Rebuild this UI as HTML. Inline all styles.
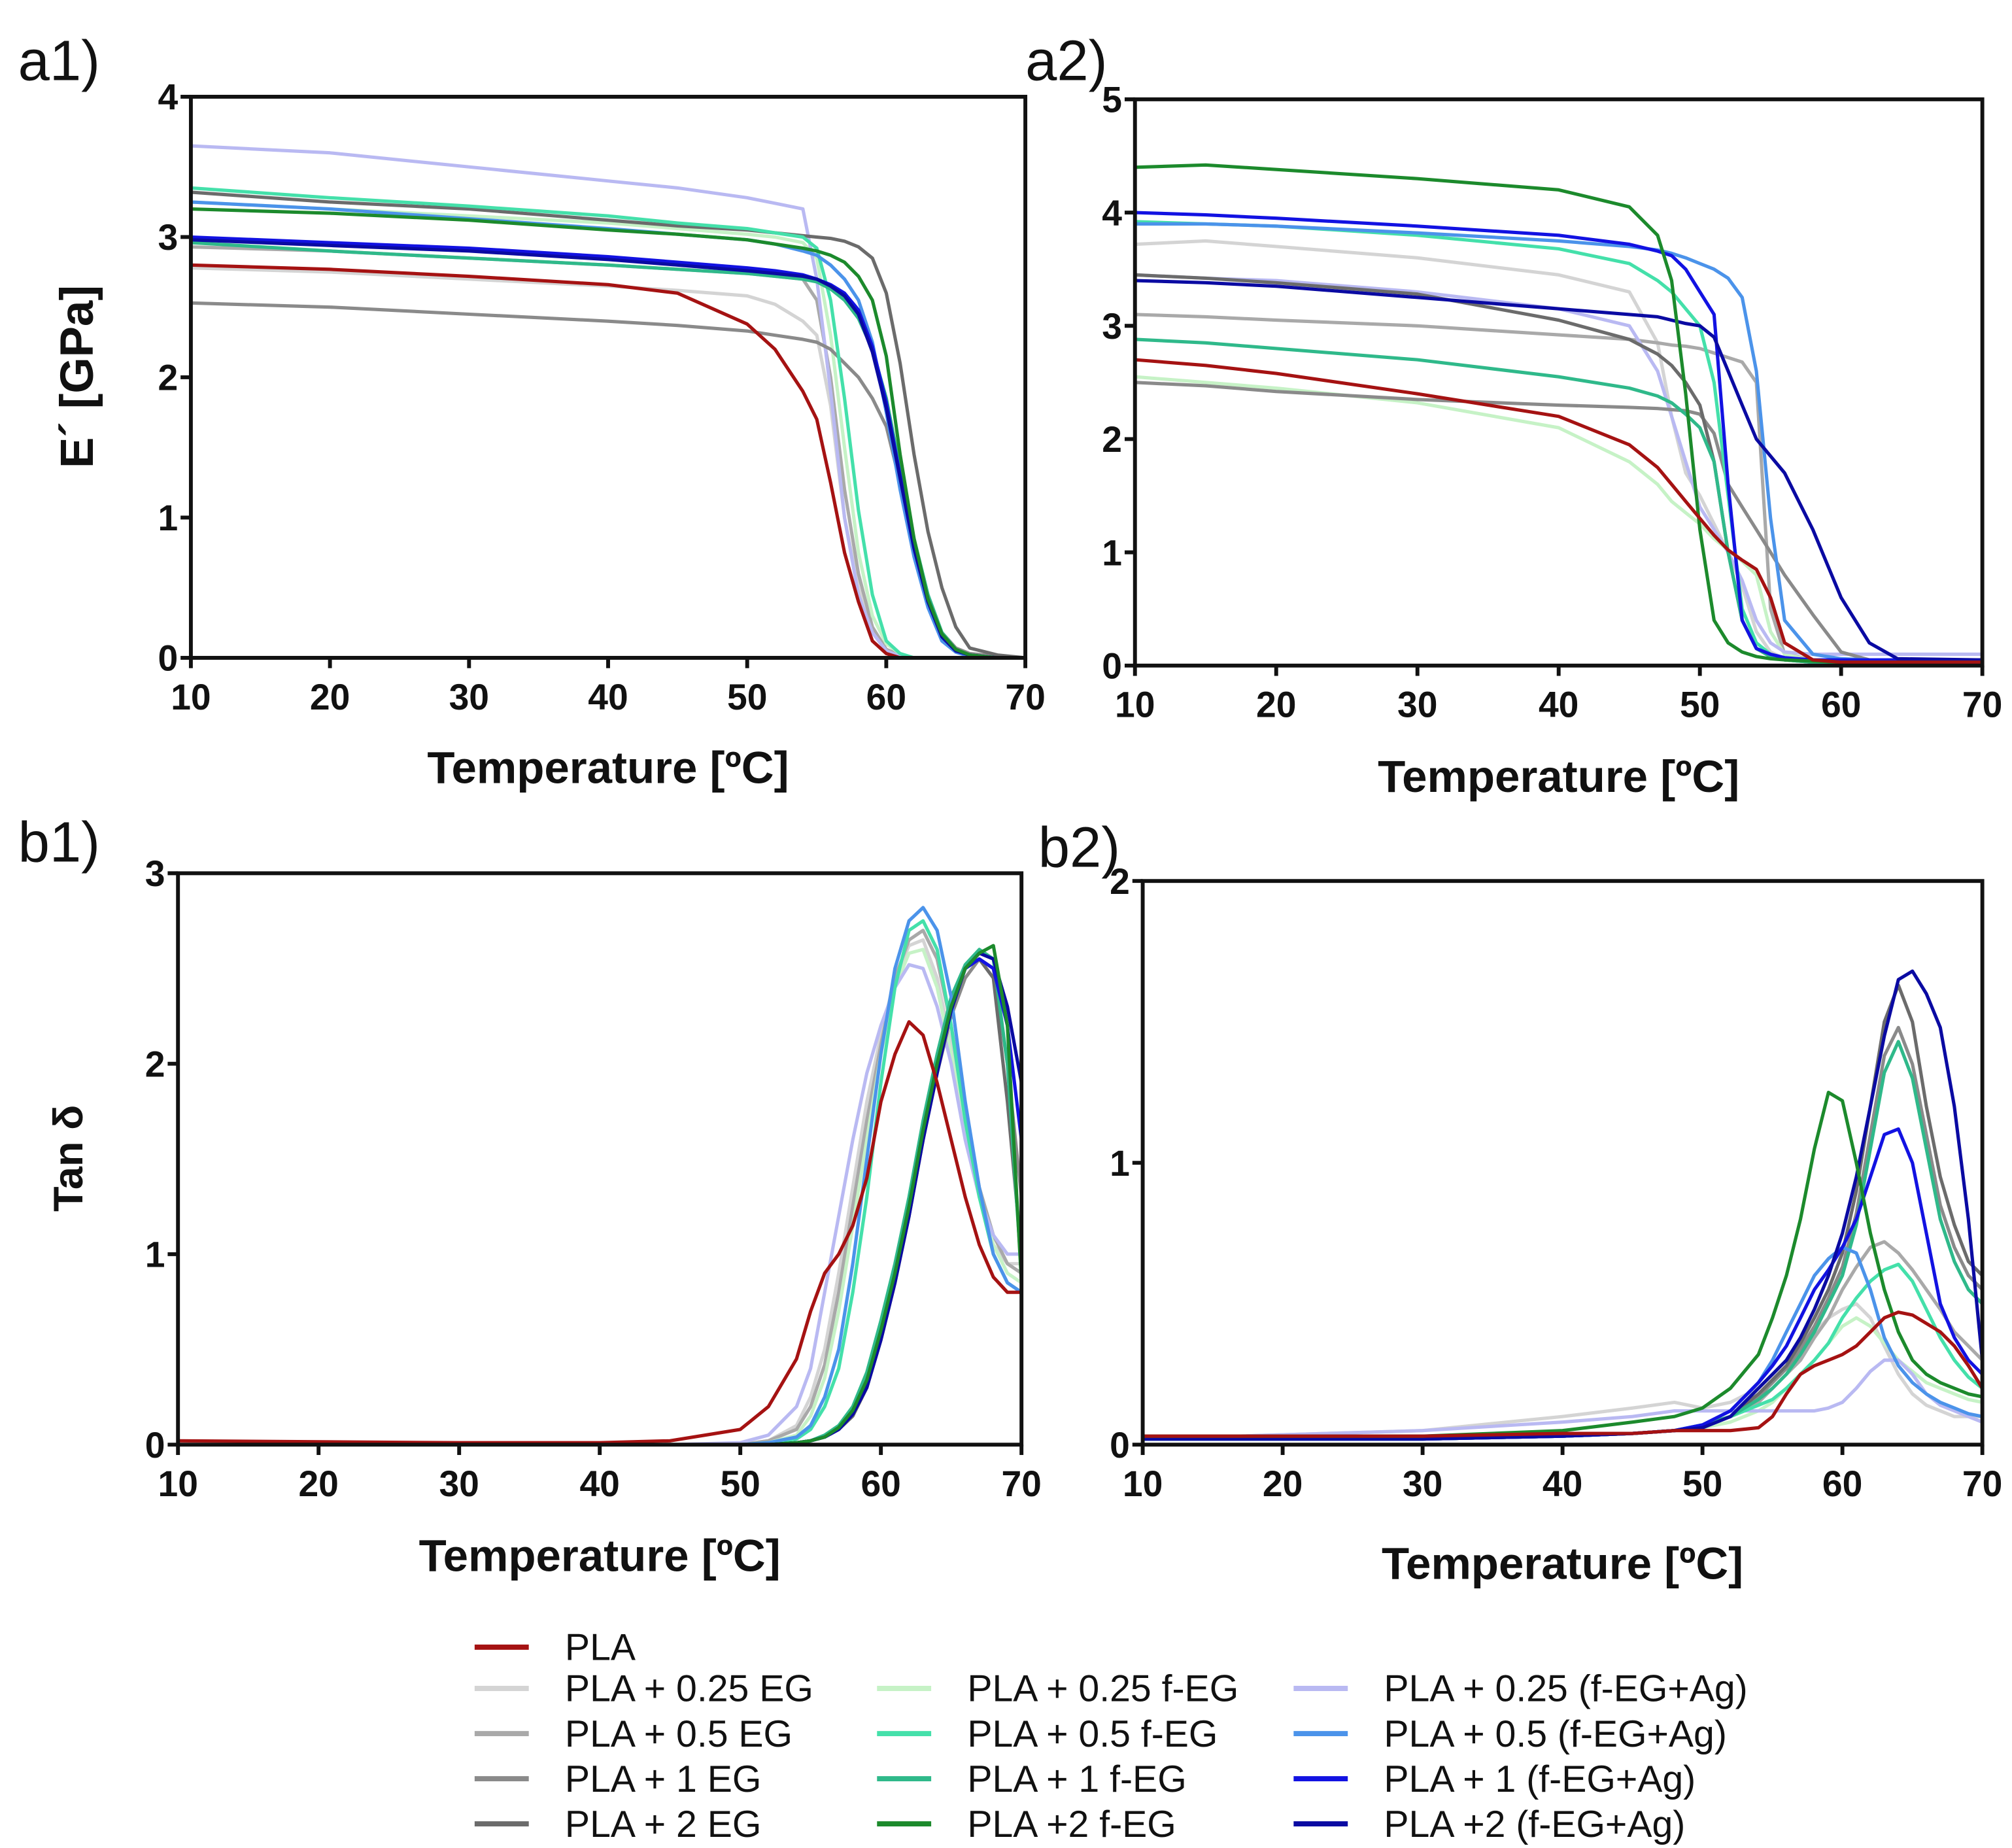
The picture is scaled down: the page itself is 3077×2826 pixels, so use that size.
<!DOCTYPE html>
<html><head><meta charset="utf-8">
<style>
html,body{margin:0;padding:0;background:#fff;}
svg{display:block;}
text{font-family:"Liberation Sans",Arial,sans-serif;fill:#111;}
</style></head>
<body>
<svg id="fig" xmlns="http://www.w3.org/2000/svg" width="3077" height="2826" viewBox="0 0 1560 1432.7" preserveAspectRatio="none">
<rect width="1560" height="1432.7" fill="#fff"/>
</svg>
<script>
// ---------- DATA ----------
const seriesNames = ["PLA","PLA + 0.25 EG","PLA + 0.5 EG","PLA + 1 EG","PLA + 2 EG","PLA + 0.25 f-EG","PLA + 0.5 f-EG","PLA + 1 f-EG","PLA +2 f-EG","PLA + 0.25 (f-EG+Ag)","PLA + 0.5 (f-EG+Ag)","PLA + 1 (f-EG+Ag)","PLA +2 (f-EG+Ag)"];
const seriesKeys = ["PLA","EG025","EG05","EG1","EG2","fEG025","fEG05","fEG1","fEG2","Ag025","Ag05","Ag1","Ag2"];
const xTicks = [10,20,30,40,50,60,70];

// a1: storage modulus E' [GPa]
const a1Temps = [10,20,30,40,45,50,52,54,55,56,57,58,59,60,61,62,63,64,65,66,68,70];
const a1_PLA   = [2.80,2.77,2.72,2.66,2.6,2.38,2.2,1.9,1.7,1.25,0.75,0.4,0.12,0.03,0,0,0,0,0,0,0,0];
const a1_EG025 = [2.78,2.75,2.7,2.65,2.62,2.58,2.52,2.4,2.3,1.8,1.0,0.5,0.2,0.06,0.02,0,0,0,0,0,0,0];
const a1_EG05  = [2.93,2.9,2.85,2.8,2.77,2.74,2.72,2.7,2.55,2.0,1.2,0.6,0.22,0.06,0.02,0,0,0,0,0,0,0];
const a1_EG1   = [2.53,2.5,2.45,2.4,2.37,2.33,2.3,2.27,2.25,2.2,2.1,2.0,1.85,1.65,1.25,0.75,0.4,0.18,0.07,0.03,0.01,0];
const a1_EG2   = [3.32,3.25,3.2,3.12,3.08,3.05,3.03,3.01,3.0,2.99,2.97,2.93,2.85,2.6,2.1,1.45,0.9,0.5,0.22,0.07,0.02,0];
const a1_fEG025= [3.25,3.2,3.15,3.1,3.06,3.02,3.0,2.96,2.85,2.3,1.5,0.75,0.3,0.1,0.03,0,0,0,0,0,0,0];
const a1_fEG05 = [3.35,3.28,3.22,3.15,3.1,3.06,3.03,3.0,2.92,2.55,1.85,1.05,0.45,0.12,0.03,0,0,0,0,0,0,0];
const a1_fEG1  = [2.96,2.9,2.85,2.8,2.77,2.74,2.72,2.7,2.68,2.63,2.55,2.42,2.2,1.85,1.35,0.85,0.45,0.18,0.06,0.02,0,0];
const a1_fEG2  = [3.2,3.17,3.12,3.05,3.02,2.98,2.95,2.92,2.9,2.87,2.82,2.72,2.55,2.15,1.45,0.85,0.42,0.17,0.06,0.02,0,0];
const a1_Ag025 = [3.65,3.6,3.5,3.4,3.35,3.28,3.24,3.2,2.7,1.9,1.0,0.45,0.18,0.05,0.01,0,0,0,0,0,0,0];
const a1_Ag05  = [3.25,3.2,3.13,3.06,3.02,2.98,2.95,2.9,2.87,2.8,2.7,2.55,2.25,1.75,1.2,0.72,0.36,0.12,0.04,0.01,0,0];
const a1_Ag1   = [3.0,2.96,2.92,2.86,2.82,2.78,2.76,2.73,2.7,2.66,2.6,2.48,2.22,1.82,1.3,0.8,0.42,0.16,0.05,0.02,0,0];
const a1_Ag2   = [2.98,2.94,2.9,2.84,2.8,2.76,2.74,2.72,2.7,2.65,2.58,2.45,2.18,1.78,1.28,0.78,0.4,0.15,0.05,0.02,0,0];
const a1YTicks = [0,1,2,3,4];

// a2
const a2Temps = [10,15,20,30,40,45,47,48,49,50,51,52,53,54,55,56,58,60,62,64,70];
const a2_PLA   = [2.7,2.65,2.58,2.4,2.2,1.95,1.75,1.6,1.45,1.3,1.15,1.02,0.93,0.85,0.6,0.2,0.05,0.03,0.03,0.03,0.03];
const a2_EG025 = [3.72,3.75,3.7,3.6,3.45,3.3,2.85,2.2,1.7,1.5,1.25,1.0,0.7,0.3,0.12,0.06,0.03,0.03,0.03,0.03,0.03];
const a2_EG05  = [3.1,3.08,3.05,3.0,2.92,2.88,2.85,2.83,2.82,2.8,2.76,2.72,2.68,2.5,0.5,0.1,0.05,0.03,0.03,0.03,0.03];
const a2_EG1   = [2.5,2.47,2.42,2.35,2.3,2.28,2.27,2.26,2.25,2.22,2.05,1.6,1.4,1.2,1.0,0.8,0.45,0.12,0.05,0.03,0.03];
const a2_EG2   = [3.45,3.42,3.38,3.28,3.05,2.88,2.75,2.65,2.5,2.3,1.8,1.0,0.4,0.15,0.08,0.05,0.03,0.03,0.03,0.03,0.03];
const a2_fEG025= [2.55,2.5,2.45,2.32,2.1,1.8,1.6,1.45,1.35,1.25,1.12,1.02,0.92,0.8,0.3,0.1,0.04,0.03,0.03,0.03,0.03];
const a2_fEG05 = [3.92,3.9,3.88,3.8,3.68,3.55,3.4,3.3,3.15,3.0,2.5,1.5,0.5,0.2,0.1,0.05,0.03,0.03,0.03,0.03,0.03];
const a2_fEG1  = [2.88,2.85,2.8,2.7,2.55,2.45,2.38,2.32,2.22,2.1,1.8,1.0,0.4,0.15,0.08,0.05,0.03,0.03,0.03,0.03,0.03];
const a2_fEG2  = [4.4,4.42,4.38,4.3,4.2,4.05,3.8,3.4,2.4,1.2,0.4,0.2,0.12,0.08,0.06,0.05,0.04,0.03,0.03,0.03,0.03];
const a2_Ag025 = [3.45,3.42,3.4,3.3,3.15,3.0,2.6,2.2,1.8,1.4,1.2,1.0,0.75,0.4,0.2,0.12,0.1,0.1,0.1,0.1,0.1];
const a2_Ag05  = [3.9,3.9,3.88,3.82,3.75,3.7,3.67,3.64,3.6,3.55,3.5,3.42,3.25,2.6,1.3,0.4,0.1,0.06,0.05,0.05,0.05];
const a2_Ag1   = [4.0,3.98,3.95,3.88,3.8,3.72,3.66,3.62,3.5,3.3,3.1,1.6,0.4,0.15,0.1,0.07,0.05,0.05,0.05,0.05,0.05];
const a2_Ag2   = [3.4,3.38,3.35,3.25,3.15,3.1,3.08,3.05,3.02,3.0,2.9,2.6,2.3,2.0,1.85,1.7,1.2,0.6,0.2,0.06,0.05];
const a2YTicks = [0,1,2,3,4,5];

// b1: tan delta
const b1Temps = [10,30,40,45,50,52,54,55,56,57,58,59,60,61,62,63,64,65,66,67,68,69,70];
const b1_PLA   = [0.02,0.01,0.01,0.02,0.08,0.2,0.45,0.7,0.9,1.0,1.15,1.4,1.8,2.05,2.22,2.15,1.9,1.6,1.3,1.05,0.88,0.8,0.8];
const b1_EG025 = [0,0,0,0,0,0.02,0.1,0.25,0.5,0.9,1.35,1.8,2.15,2.45,2.62,2.65,2.45,2.1,1.7,1.3,1.05,0.95,0.95];
const b1_EG05  = [0,0,0,0,0,0.02,0.08,0.2,0.42,0.8,1.25,1.7,2.1,2.45,2.65,2.7,2.55,2.2,1.75,1.35,1.1,0.95,0.9];
const b1_EG1   = [0,0,0,0,0,0,0.01,0.02,0.04,0.08,0.15,0.3,0.55,0.85,1.2,1.6,1.95,2.25,2.45,2.55,2.5,2.0,1.3];
const b1_EG2   = [0,0,0,0,0,0,0.01,0.02,0.04,0.08,0.15,0.3,0.55,0.85,1.2,1.6,2.0,2.3,2.5,2.55,2.45,1.8,1.0];
const b1_fEG025= [0,0,0,0,0,0.01,0.05,0.15,0.35,0.7,1.15,1.6,2.05,2.4,2.58,2.6,2.4,2.05,1.65,1.3,1.05,0.9,0.85];
const b1_fEG05 = [0,0,0,0,0,0.01,0.03,0.08,0.2,0.4,0.8,1.3,1.9,2.4,2.7,2.75,2.6,2.2,1.7,1.3,1.0,0.85,0.8];
const b1_fEG1  = [0,0,0,0,0,0,0.01,0.02,0.05,0.1,0.2,0.38,0.65,0.95,1.3,1.7,2.05,2.35,2.52,2.6,2.55,2.0,0.9];
const b1_fEG2  = [0,0,0,0,0,0,0.01,0.02,0.04,0.09,0.18,0.34,0.6,0.9,1.25,1.65,2.0,2.3,2.5,2.58,2.62,2.2,0.85];
const b1_Ag025 = [0,0,0,0,0.01,0.05,0.2,0.4,0.8,1.2,1.6,1.95,2.2,2.4,2.52,2.5,2.3,2.0,1.6,1.3,1.1,1.0,1.0];
const b1_Ag05  = [0,0,0,0,0,0.01,0.04,0.1,0.25,0.5,0.95,1.5,2.05,2.5,2.75,2.82,2.7,2.35,1.8,1.35,1.0,0.85,0.8];
const b1_Ag1   = [0,0,0,0,0,0,0.01,0.02,0.04,0.08,0.16,0.32,0.58,0.9,1.25,1.65,2.0,2.3,2.5,2.55,2.5,2.2,1.6];
const b1_Ag2   = [0,0,0,0,0,0,0.01,0.02,0.04,0.08,0.16,0.3,0.55,0.85,1.2,1.6,1.95,2.28,2.5,2.58,2.55,2.3,1.9];
const b1YTicks = [0,1,2,3];

// b2
const b2Temps = [10,30,40,45,48,50,52,54,55,56,57,58,59,60,61,62,63,64,65,66,67,68,69,70];
const b2_PLA   = [0.03,0.03,0.04,0.04,0.05,0.05,0.05,0.06,0.1,0.18,0.25,0.28,0.3,0.32,0.35,0.4,0.45,0.47,0.46,0.43,0.4,0.35,0.28,0.2];
const b2_EG025 = [0.02,0.05,0.1,0.13,0.15,0.13,0.15,0.2,0.25,0.3,0.35,0.4,0.45,0.48,0.5,0.45,0.35,0.25,0.18,0.14,0.12,0.1,0.1,0.1];
const b2_EG05  = [0.02,0.02,0.03,0.04,0.05,0.07,0.1,0.15,0.2,0.25,0.3,0.38,0.45,0.55,0.63,0.7,0.72,0.68,0.62,0.55,0.48,0.4,0.35,0.3];
const b2_EG1   = [0.02,0.02,0.03,0.04,0.05,0.07,0.1,0.17,0.22,0.27,0.34,0.42,0.52,0.63,0.82,1.1,1.38,1.48,1.35,1.1,0.85,0.7,0.6,0.55];
const b2_EG2   = [0.02,0.02,0.03,0.04,0.05,0.07,0.1,0.18,0.23,0.28,0.36,0.45,0.55,0.68,0.9,1.2,1.5,1.63,1.5,1.2,0.95,0.78,0.65,0.6];
const b2_fEG025= [0.02,0.02,0.03,0.04,0.05,0.06,0.08,0.12,0.15,0.2,0.25,0.3,0.36,0.42,0.45,0.42,0.36,0.3,0.26,0.22,0.2,0.18,0.16,0.15];
const b2_fEG05 = [0.02,0.02,0.03,0.04,0.05,0.07,0.1,0.14,0.16,0.2,0.25,0.3,0.36,0.45,0.52,0.58,0.62,0.64,0.58,0.48,0.38,0.3,0.24,0.2];
const b2_fEG1  = [0.02,0.02,0.03,0.04,0.05,0.07,0.1,0.16,0.2,0.25,0.32,0.4,0.5,0.6,0.78,1.05,1.32,1.43,1.3,1.05,0.8,0.65,0.55,0.5];
const b2_fEG2  = [0.03,0.03,0.05,0.08,0.1,0.13,0.2,0.32,0.45,0.6,0.8,1.05,1.25,1.22,1.0,0.75,0.55,0.4,0.3,0.25,0.22,0.2,0.18,0.17];
const b2_Ag025 = [0.02,0.05,0.08,0.1,0.12,0.12,0.12,0.12,0.12,0.12,0.12,0.12,0.13,0.15,0.2,0.26,0.3,0.3,0.25,0.18,0.14,0.12,0.1,0.08];
const b2_Ag05  = [0.02,0.02,0.03,0.04,0.05,0.07,0.12,0.22,0.3,0.4,0.5,0.6,0.66,0.7,0.68,0.55,0.38,0.28,0.22,0.18,0.15,0.13,0.11,0.1];
const b2_Ag1   = [0.02,0.02,0.03,0.04,0.05,0.07,0.12,0.22,0.28,0.35,0.45,0.55,0.62,0.7,0.8,0.95,1.1,1.12,1.0,0.75,0.5,0.38,0.3,0.25];
const b2_Ag2   = [0.02,0.02,0.03,0.04,0.05,0.06,0.1,0.2,0.25,0.3,0.38,0.48,0.6,0.75,0.95,1.2,1.45,1.65,1.68,1.6,1.48,1.2,0.8,0.3];
const b2YTicks = [0,1,2];

// ---------- STYLE / LAYOUT ----------
const colors = ["#a51212","#d4d4d4","#a9a9a9","#8a8a8a","#6b6b6b","#c6f2c6","#44e0aa","#2fb98a","#1c8a2c","#b9b9f2","#4b93ea","#1212e2","#0a0aa2"];
const drawOrder = [1,2,5,9,3,4,6,7,10,11,12,8,0];
const NS = "http://www.w3.org/2000/svg";
const svg = document.getElementById("fig");
function mk(tag, attrs, parent){ const e=document.createElementNS(NS,tag); for(const k in attrs) e.setAttribute(k,attrs[k]); (parent||svg).appendChild(e); return e; }

const panels = [
 {id:"a1", box:{l:148,r:795,t:75,b:510}, temps:a1Temps, yTicks:a1YTicks, data:[a1_PLA,a1_EG025,a1_EG05,a1_EG1,a1_EG2,a1_fEG025,a1_fEG05,a1_fEG1,a1_fEG2,a1_Ag025,a1_Ag05,a1_Ag1,a1_Ag2], ytitle:"E´ [GPa]", yt:{x:72,y:292}, xt:595, lab:{x:14,y:62,t:"a1)"}},
 {id:"a2", box:{l:880,r:1537,t:77,b:516}, temps:a2Temps, yTicks:a2YTicks, data:[a2_PLA,a2_EG025,a2_EG05,a2_EG1,a2_EG2,a2_fEG025,a2_fEG05,a2_fEG1,a2_fEG2,a2_Ag025,a2_Ag05,a2_Ag1,a2_Ag2], ytitle:null, xt:602, lab:{x:795,y:62,t:"a2)"}},
 {id:"b1", box:{l:138,r:792,t:677,b:1120}, temps:b1Temps, yTicks:b1YTicks, data:[b1_PLA,b1_EG025,b1_EG05,b1_EG1,b1_EG2,b1_fEG025,b1_fEG05,b1_fEG1,b1_fEG2,b1_Ag025,b1_Ag05,b1_Ag1,b1_Ag2], ytitle:"Tan δ", yt:{x:64,y:898}, xt:1206, lab:{x:14,y:668,t:"b1)"}},
 {id:"b2", box:{l:886,r:1537,t:683,b:1120}, temps:b2Temps, yTicks:b2YTicks, data:[b2_PLA,b2_EG025,b2_EG05,b2_EG1,b2_EG2,b2_fEG025,b2_fEG05,b2_fEG1,b2_fEG2,b2_Ag025,b2_Ag05,b2_Ag1,b2_Ag2], ytitle:null, xt:1212, lab:{x:805,y:672,t:"b2)"}}
];

panels.forEach(p=>{
  const B=p.box, ymax=p.yTicks[p.yTicks.length-1];
  const xs = v => B.l + (v-10)/60*(B.r-B.l);
  const ys = v => B.b - v/ymax*(B.b-B.t);
  const g = mk("g",{});
  
  
  const lab = mk("text",{x:p.lab.x,y:p.lab.y,"font-size":44},g); lab.textContent=p.lab.t;
  
  
  drawOrder.forEach(si=>{
    const vals=p.data[si];
    let d="";
    vals.forEach((v,i)=>{ d+=(i?"L":"M")+xs(p.temps[i]).toFixed(1)+","+ys(v).toFixed(1); });
    const path=mk("path",{d:d,fill:"none",stroke:colors[si],"stroke-width":2.6,"stroke-linejoin":"round"},g);
    
    
  });
  const fr=mk("rect",{x:B.l,y:B.t,width:B.r-B.l,height:B.b-B.t,fill:"none",stroke:"#111","stroke-width":3},g);
  
  
  xTicks.forEach(t=>{
    mk("line",{x1:xs(t),x2:xs(t),y1:B.b,y2:B.b+8,stroke:"#111","stroke-width":3},g);
    const tx=mk("text",{x:xs(t),y:B.b+40,"font-size":28,"font-weight":"bold","text-anchor":"middle"},g); tx.textContent=t;
    
    
  });
  p.yTicks.forEach(t=>{
    mk("line",{x1:B.l-8,x2:B.l,y1:ys(t),y2:ys(t),stroke:"#111","stroke-width":3},g);
    const ty=mk("text",{x:B.l-10,y:ys(t)+10,"font-size":28,"font-weight":"bold","text-anchor":"end"},g); ty.textContent=t;
    
    
  });
  const xt=mk("text",{x:(B.l+B.r)/2,y:p.xt+12,"font-size":35,"font-weight":"bold","text-anchor":"middle"},g); xt.textContent="Temperature [ºC]";
  
  
  if(p.ytitle){
    const yt=mk("text",{x:p.yt.x,y:p.yt.y,"font-size":p.id==="a1"?36:32,"font-weight":"bold","text-anchor":"middle",transform:"rotate(-90 "+p.yt.x+" "+p.yt.y+")"},g); yt.textContent=p.ytitle;
    
    
  }
});

// legend
const legendCols = [[0,1,2,3,4],[5,6,7,8],[9,10,11,12]];
const legendColX = [368,680,1003];
const legendRowsY = [1277,1309,1344,1379,1414];
const lg = mk("g",{});


legendCols.forEach((col,ci)=>{
  col.forEach((si,ri)=>{
    const row = ci===0 ? ri : ri+1;
    const y = legendRowsY[row], x = legendColX[ci];
    const e = mk("g",{},lg);
    
    
    mk("line",{x1:x,x2:x+42,y1:y,y2:y,stroke:colors[si],"stroke-width":4},e);
    const t=mk("text",{x:x+70,y:y+10,"font-size":29},e); t.textContent=seriesNames[si];
  });
});
</script>
</body></html>
